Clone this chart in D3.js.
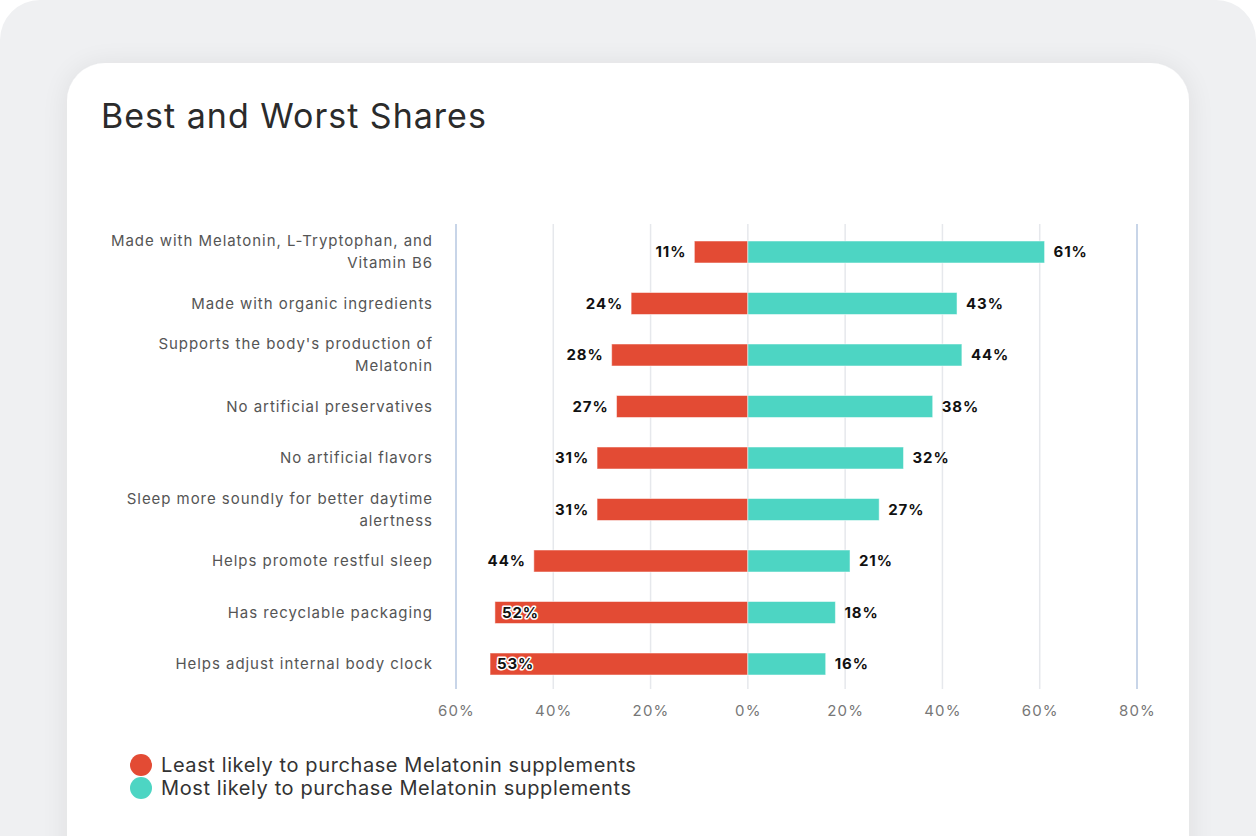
<!DOCTYPE html>
<html><head><meta charset="utf-8">
<script src="https://cdn.jsdelivr.net/npm/d3@7"></script>
<style>
html,body{margin:0;padding:0;background:#fff;}
svg{display:block;font-family:Inter,"Noto Sans",sans-serif;}
</style></head>
<body>
<svg id="chart" width="1256" height="836"></svg>
<script>
const categories = [
  "Made with Melatonin, L-Tryptophan, and Vitamin B6",
  "Made with organic ingredients",
  "Supports the body's production of Melatonin",
  "No artificial preservatives",
  "No artificial flavors",
  "Sleep more soundly for better daytime alertness",
  "Helps promote restful sleep",
  "Has recyclable packaging",
  "Helps adjust internal body clock"
];
const leastLikely = [11, 24, 28, 27, 31, 31, 44, 52, 53];
const mostLikely  = [61, 43, 44, 38, 32, 27, 21, 18, 16];
const tickValues = [-60, -40, -20, 0, 20, 40, 60, 80];
const seriesNames = ["Least likely to purchase Melatonin supplements", "Most likely to purchase Melatonin supplements"];
const seriesColors = ["#e34b34", "#4dd5c3"];

const svg = d3.select("#chart");
const defs = svg.append("defs");
const f = defs.append("filter").attr("id","sh").attr("x","-10%").attr("y","-10%").attr("width","120%").attr("height","130%");
f.append("feGaussianBlur").attr("in","SourceAlpha").attr("stdDeviation",14);
f.append("feOffset").attr("dy",2).attr("result","b");
f.append("feComponentTransfer").append("feFuncA").attr("type","linear").attr("slope",0.08);
const m = f.append("feMerge"); m.append("feMergeNode"); m.append("feMergeNode").attr("in","SourceGraphic");

svg.append("rect").attr("x",0).attr("y",0).attr("width",1256).attr("height",876).attr("rx",40).attr("fill","#eff0f2");
svg.append("rect").attr("x",67).attr("y",63).attr("width",1122).attr("height",840).attr("rx",38).attr("fill","#fff").attr("filter","url(#sh)");

svg.append("text").attr("x",101).attr("y",128).attr("font-size",34).attr("letter-spacing",1)
  .attr("fill","#2b2b2b").text("Best and Worst Shares");

const x = d3.scaleLinear().domain([-60, 80]).range([456, 1137]);
const y = d3.scaleBand().domain(categories).range([224, 692]).paddingInner(0.573).paddingOuter(0.33);

// gridlines
const g = svg.append("g");
g.selectAll("line.grid").data(tickValues).join("line")
  .attr("x1", d => x(d)).attr("x2", d => x(d)).attr("y1", 224).attr("y2", 689)
  .attr("stroke", (d,i) => (i===0 || i===tickValues.length-1) ? "#c8d5e8" : "#e6e8ec")
  .attr("stroke-width", (d,i) => (i===0 || i===tickValues.length-1) ? 2 : 1.5);

// axis
const ax = svg.append("g").attr("transform","translate(0,689)")
  .call(d3.axisBottom(x).tickValues(tickValues).tickSize(0).tickPadding(16).tickFormat(d => Math.abs(d) + "%"));
ax.select(".domain").remove();
ax.selectAll("text").attr("font-size",15).attr("fill","#777").attr("letter-spacing",1.2)
  .attr("font-family","Inter,'Noto Sans',sans-serif");

// bars
const rows = categories.map((c,i) => ({c, l: leastLikely[i], m: mostLikely[i]}));
g.selectAll("rect.l").data(rows).join("rect")
  .attr("x", d => x(-d.l)).attr("width", d => x(0) - x(-d.l))
  .attr("y", d => y(d.c)).attr("height", y.bandwidth())
  .attr("fill", seriesColors[0]).attr("stroke","#fff").attr("stroke-opacity",0.5).attr("stroke-width",1);
g.selectAll("rect.m").data(rows).join("rect")
  .attr("x", x(0)).attr("width", d => x(d.m) - x(0))
  .attr("y", d => y(d.c)).attr("height", y.bandwidth())
  .attr("fill", seriesColors[1]).attr("stroke","#fff").attr("stroke-opacity",0.5).attr("stroke-width",1);

// value labels
rows.forEach(d => {
  const cy = y(d.c) + y.bandwidth()/2;
  let lx = x(-d.l) - 8;
  let anchor = "end";
  let inside = false;
  if (lx - 40 < x(-60)) { lx = x(-d.l) + 7; anchor = "start"; inside = true; }
  const t = g.append("text").attr("x", lx).attr("y", cy).attr("dy","0.36em").attr("letter-spacing",0.9)
    .attr("text-anchor", anchor).attr("font-size",15).attr("font-weight",700).attr("fill","#111").text(d.l + "%");
  if (inside) t.attr("stroke","#fff").attr("stroke-width",3).attr("paint-order","stroke").attr("stroke-linejoin","round");
  g.append("text").attr("x", x(d.m) + 9).attr("y", cy).attr("dy","0.36em").attr("letter-spacing",0.9)
    .attr("font-size",15).attr("font-weight",700).attr("fill","#111").text(d.m + "%");
});

// category labels with wrapping
const maxW = 326;
rows.forEach(d => {
  const cy = y(d.c) + y.bandwidth()/2;
  const t = g.append("text").attr("x", 433).attr("text-anchor","end").attr("font-size",15)
    .attr("letter-spacing",0.95).attr("fill","#555");
  const words = d.c.split(" ");
  let lines = [], cur = [];
  words.forEach(w => {
    cur.push(w);
    t.text(cur.join(" "));
    if (t.node().getComputedTextLength() > maxW && cur.length > 1) {
      cur.pop(); lines.push(cur.join(" ")); cur = [w];
    }
  });
  lines.push(cur.join(" "));
  t.text(null);
  const lh = 22;
  const y0 = cy - (lines.length-1)*lh/2;
  lines.forEach((ln,i) => t.append("tspan").attr("x",433).attr("y", y0 + i*lh).attr("dy","0.36em").text(ln));
});

// legend
const lg = svg.append("g");
seriesNames.forEach((n,i) => {
  lg.append("circle").attr("cx",141).attr("cy",765 + i*23).attr("r",11).attr("fill",seriesColors[i]);
  lg.append("text").attr("x",161).attr("y",765 + i*23).attr("dy","0.36em").attr("font-size",20)
    .attr("letter-spacing",0.6).attr("fill","#333").text(n);
});
</script>
</body></html>
